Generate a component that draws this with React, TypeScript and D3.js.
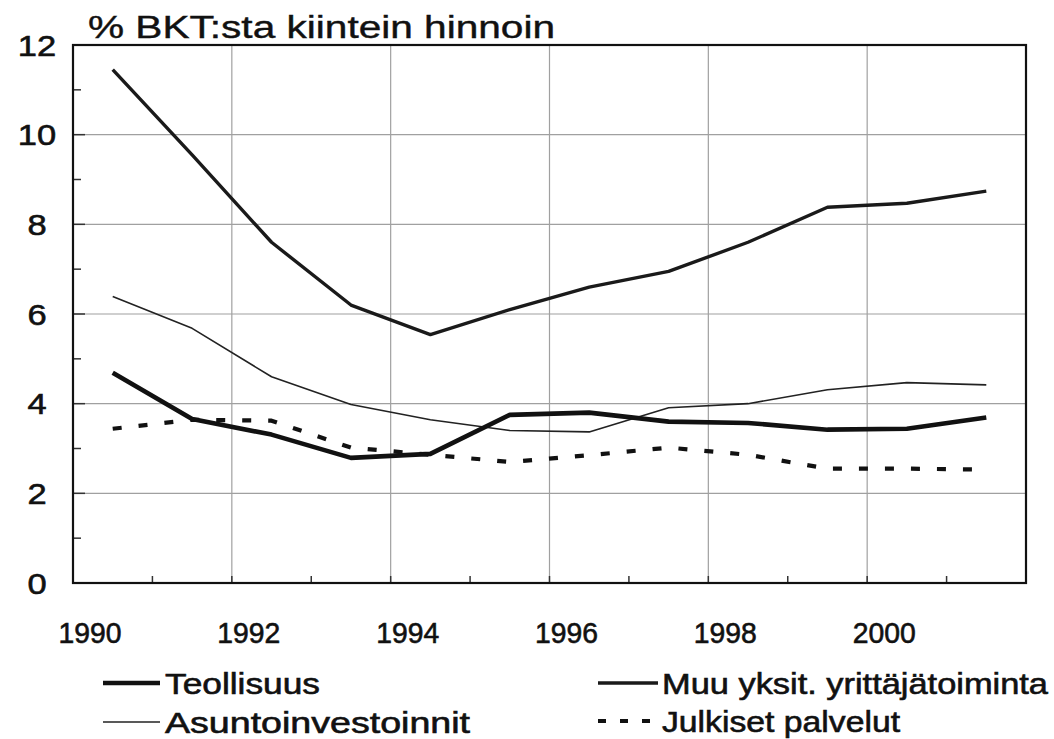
import React from "react";
import * as d3 from "d3";

const years = [1990, 1991, 1992, 1993, 1994, 1995, 1996, 1997, 1998, 1999, 2000, 2001];
const teollisuus = [4.69, 3.66, 3.31, 2.79, 2.88, 3.75, 3.8, 3.6, 3.57, 3.42, 3.44, 3.69];
const muuYksit = [11.45, 9.55, 7.6, 6.2, 5.54, 6.1, 6.6, 6.95, 7.6, 8.38, 8.47, 8.74];
const asunto = [6.39, 5.68, 4.6, 3.98, 3.64, 3.4, 3.37, 3.91, 4.0, 4.31, 4.47, 4.42];
const julkiset = [3.44, 3.64, 3.62, 3.02, 2.86, 2.7, 2.85, 3.02, 2.86, 2.55, 2.55, 2.53];
const xTickLabels = [1990, 1992, 1994, 1996, 1998, 2000];
const yTicks = [0, 2, 4, 6, 8, 10, 12];
const title = "% BKT:sta kiintein hinnoin";
const seriesNames = ["Teollisuus", "Asuntoinvestoinnit", "Muu yksit. yrittäjätoiminta", "Julkiset palvelut"];

const FONT = "'Liberation Sans', Arial, Helvetica, sans-serif";
const TXT = { fill: "#111", stroke: "#111", strokeWidth: 0.6 };

export default function App() {
  const left = 73, right = 1026, top = 45, bottom = 583;
  const x = d3.scaleLinear().domain([1990, 2002]).range([left, right]);
  const y = d3.scaleLinear().domain([0, 12]).range([bottom, top]);
  const line = d3
    .line<number>()
    .x((_, i) => x(years[i] + 0.5))
    .y((d) => y(d));

  const gridYears = d3.range(1992, 2002, 2);
  const gridVals = [2, 4, 6, 8, 10];
  const minorY = [1, 3, 5, 7, 9, 11];
  const allYearTicks = d3.range(1991, 2002, 1);

  return (
    <svg
      width={1054}
      height={739}
      style={{ position: "absolute", left: 0, top: 0, background: "#fff" }}
      fontFamily={FONT}
    >
      {/* gridlines */}
      {gridVals.map((v) => (
        <line key={"gy" + v} x1={left} x2={right} y1={y(v)} y2={y(v)} stroke="#a0a0a0" strokeWidth={1.2} />
      ))}
      {gridYears.map((yr) => (
        <line key={"gx" + yr} x1={x(yr)} x2={x(yr)} y1={top} y2={bottom} stroke="#a0a0a0" strokeWidth={1.2} />
      ))}
      {/* ticks */}
      {allYearTicks.map((yr) => (
        <line key={"tx" + yr} x1={x(yr)} x2={x(yr)} y1={bottom} y2={bottom - 7} stroke="#333" strokeWidth={1.5} />
      ))}
      {minorY.map((v) => (
        <line key={"ty" + v} x1={left} x2={left + 8} y1={y(v)} y2={y(v)} stroke="#333" strokeWidth={1.5} />
      ))}
      {gridVals.map((v) => (
        <line key={"tyM" + v} x1={left} x2={left + 12} y1={y(v)} y2={y(v)} stroke="#333" strokeWidth={1.5} />
      ))}
      {/* frame */}
      <rect x={left} y={top} width={right - left} height={bottom - top} fill="none" stroke="#111" strokeWidth={2.2} />

      {/* series */}
      <path d={line(asunto) || ""} fill="none" stroke="#222" strokeWidth={1.6} strokeLinejoin="round" />
      <path d={line(muuYksit) || ""} fill="none" stroke="#1a1a1a" strokeWidth={3.4} strokeLinejoin="round" />
      <path d={line(teollisuus) || ""} fill="none" stroke="#111" strokeWidth={4.6} strokeLinejoin="round" />
      <path
        d={line(julkiset) || ""}
        fill="none"
        stroke="#111"
        strokeWidth={4.2}
        strokeDasharray="9 17"
        strokeLinejoin="round"
      />

      {/* y labels */}
      {yTicks.map((v) => (
        <text
          key={"yl" + v}
          x={37}
          y={y(v)}
          dy="0.36em"
          textAnchor="middle"
          fontSize={30}
          {...TXT}
          transform={`translate(37,0) scale(1.15,1) translate(-37,0)`}
        >
          {v}
        </text>
      ))}
      {/* x labels */}
      {xTickLabels.map((yr) => (
        <text key={"xl" + yr} x={x(yr) + 17} y={643} textAnchor="middle" fontSize={29} {...TXT}
          textLength={63} lengthAdjust="spacingAndGlyphs">
          {yr}
        </text>
      ))}

      {/* title */}
      <text x={88} y={38} fontSize={31} {...TXT} strokeWidth={0.4} textLength={467} lengthAdjust="spacingAndGlyphs">
        {title}
      </text>

      {/* legend */}
      <line x1={103} x2={160} y1={683} y2={683} stroke="#111" strokeWidth={4.6} />
      <text x={165} y={694} fontSize={29} {...TXT} textLength={155} lengthAdjust="spacingAndGlyphs">
        {seriesNames[0]}
      </text>
      <line x1={103} x2={160} y1={722} y2={722} stroke="#222" strokeWidth={1.6} />
      <text x={165} y={733} fontSize={29} {...TXT} textLength={305} lengthAdjust="spacingAndGlyphs">
        {seriesNames[1]}
      </text>
      <line x1={598} x2={658} y1={683} y2={683} stroke="#1a1a1a" strokeWidth={3.4} />
      <text x={662} y={694} fontSize={29} {...TXT} textLength={386} lengthAdjust="spacingAndGlyphs">
        {seriesNames[2]}
      </text>
      <line x1={598} x2={660} y1={721} y2={721} stroke="#111" strokeWidth={4.2} strokeDasharray="8 14" />
      <text x={662} y={732} fontSize={29} {...TXT} textLength={238} lengthAdjust="spacingAndGlyphs">
        {seriesNames[3]}
      </text>
    </svg>
  );
}
